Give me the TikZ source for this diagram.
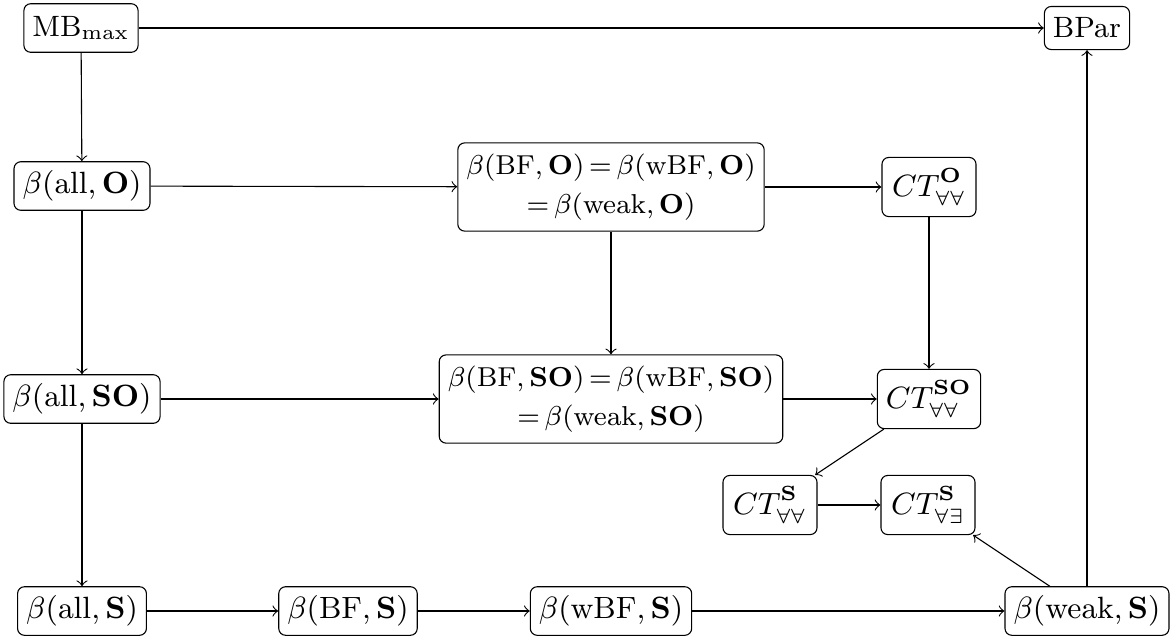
\documentclass[tikz,border=0pt]{standalone}
\newcommand{\supgap}{\vrule width 0pt depth 1.2pt}
\begin{document}
\begin{tikzpicture}[x=0.2924pt,y=-0.2924pt,
  font=\fontsize{8.6}{11}\selectfont, line width=0.32pt,
  box/.style={draw, rounded corners=2pt, align=center, inner xsep=2.5pt, inner ysep=2pt, minimum height=14.2pt},
  big/.style={box, font=\fontsize{8.3}{11.5}\selectfont, minimum height=25.8pt, execute at begin node={\thickmuskip=3mu plus 2mu\relax}},
  ct/.style={box, minimum height=17.3pt, minimum width=27.5pt},
  arr/.style={->, >=to}]
\useasboundingbox (0,0) rectangle (1173,638);
\node[box] (mb) at (81,28) {MB$_{\max}$};
\node[box, minimum height=12.6pt] (bpar) at (1087,28) {BPar};
\node[box] (allO) at (82,186) {$\beta(\mathrm{all},\mathbf{O})$};
\node[big] (bfO) at (611,187) {$\beta(\mathrm{BF},\mathbf{O}) = \beta(\mathrm{wBF},\mathbf{O})$\\$= \beta(\mathrm{weak},\mathbf{O})$};
\node[ct] (ctO) at (929,187) {$CT^{\mathbf{O}\supgap}_{\forall\forall}$};
\node[box] (allSO) at (82,399) {$\beta(\mathrm{all},\mathbf{SO})$};
\node[big] (bfSO) at (611,399) {$\beta(\mathrm{BF},\mathbf{SO}) = \beta(\mathrm{wBF},\mathbf{SO})$\\$= \beta(\mathrm{weak},\mathbf{SO})$};
\node[ct] (ctSO) at (929,399) {$CT^{\mathbf{SO}\supgap}_{\forall\forall}$};
\node[ct] (ctSaa) at (770,505) {$CT^{\mathbf{S}\supgap}_{\forall\forall}$};
\node[ct] (ctSae) at (928,505) {$CT^{\mathbf{S}\supgap}_{\forall\exists}$};
\node[box] (allS) at (82,611) {$\beta(\mathrm{all},\mathbf{S})$};
\node[box] (bfS) at (348,611) {$\beta(\mathrm{BF},\mathbf{S})$};
\node[box] (wbfS) at (611,611) {$\beta(\mathrm{wBF},\mathbf{S})$};
\node[box] (weakS) at (1087,611) {$\beta(\mathrm{weak},\mathbf{S})$};
\draw[arr] (mb) -- (bpar);
\draw[arr] (mb) -- (allO);
\draw[arr] (allO) -- (bfO);
\draw[arr] (bfO) -- (ctO);
\draw[arr] (allO) -- (allSO);
\draw[arr] (bfO) -- (bfSO);
\draw[arr] (ctO) -- (ctSO);
\draw[arr] (allSO) -- (bfSO);
\draw[arr] (bfSO) -- (ctSO);
\draw[arr] (allSO) -- (allS);
\draw[arr] (ctSO) -- (ctSaa);
\draw[arr] (ctSaa) -- (ctSae);
\draw[arr] (allS) -- (bfS);
\draw[arr] (bfS) -- (wbfS);
\draw[arr] (wbfS) -- (weakS);
\draw[arr] (weakS) -- (ctSae);
\draw[arr] (weakS) -- (bpar);
\end{tikzpicture}
\end{document}
